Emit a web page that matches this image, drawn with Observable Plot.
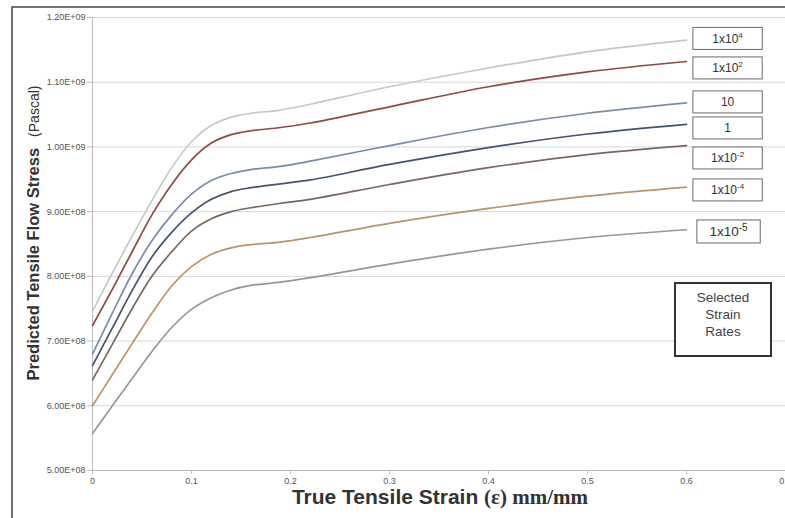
<!DOCTYPE html>
<html><head><meta charset="utf-8">
<script src="https://cdn.jsdelivr.net/npm/d3@7"></script>
<script src="https://cdn.jsdelivr.net/npm/@observablehq/plot@0.6"></script>
<style>
html,body{margin:0;padding:0;background:#fff;overflow:hidden;width:785px;height:518px;}
#chart{position:relative;width:785px;height:518px;overflow:hidden;}
</style></head><body><div id="chart"></div>
<script>
// ---- data (true tensile strain, predicted flow stress in Pa) ----
const strain = [0, 0.02, 0.04, 0.06, 0.08, 0.10, 0.12, 0.14, 0.16, 0.19, 0.22, 0.30, 0.40, 0.50, 0.60];
const rate1e4  = [7.46e8, 8.05e8, 8.62e8, 9.17e8, 9.68e8, 10.08e8, 10.33e8, 10.46e8, 10.52e8, 10.57e8, 10.66e8, 10.93e8, 11.22e8, 11.47e8, 11.65e8];
const rate1e2  = [7.24e8, 7.80e8, 8.38e8, 8.95e8, 9.42e8, 9.80e8, 10.06e8, 10.19e8, 10.25e8, 10.30e8, 10.37e8, 10.62e8, 10.93e8, 11.16e8, 11.32e8];
const rate10   = [6.80e8, 7.43e8, 8.04e8, 8.55e8, 8.95e8, 9.27e8, 9.48e8, 9.59e8, 9.65e8, 9.70e8, 9.78e8, 10.02e8, 10.30e8, 10.52e8, 10.68e8];
const rate1    = [6.62e8, 7.20e8, 7.78e8, 8.30e8, 8.68e8, 8.98e8, 9.19e8, 9.31e8, 9.37e8, 9.43e8, 9.49e8, 9.73e8, 9.99e8, 10.20e8, 10.35e8];
const rate1em2 = [6.40e8, 6.95e8, 7.50e8, 8.00e8, 8.38e8, 8.70e8, 8.89e8, 9.00e8, 9.06e8, 9.13e8, 9.19e8, 9.42e8, 9.68e8, 9.88e8, 10.02e8];
const rate1em4 = [6.00e8, 6.48e8, 6.96e8, 7.43e8, 7.85e8, 8.15e8, 8.34e8, 8.44e8, 8.49e8, 8.53e8, 8.60e8, 8.82e8, 9.05e8, 9.24e8, 9.38e8];
const rate1em5 = [5.57e8, 6.00e8, 6.42e8, 6.84e8, 7.21e8, 7.49e8, 7.67e8, 7.79e8, 7.86e8, 7.91e8, 7.98e8, 8.19e8, 8.42e8, 8.60e8, 8.72e8];

const seriesKeys = ["1e4", "1e2", "10", "1", "1e-2", "1e-4", "1e-5"];
const seriesBase = ["1x10", "1x10", "10", "1", "1x10", "1x10", "1x10"];
const seriesSup  = ["4", "2", "", "", "-2", "-4", "-5"];
const seriesValues = [rate1e4, rate1e2, rate10, rate1, rate1em2, rate1em4, rate1em5];
const seriesColors = ["#c3cac6", "#8c4b45", "#7b8ca8", "#44546c", "#7a675c", "#b8946a", "#8d9d96"];

const yTicks = [5e8, 6e8, 7e8, 8e8, 9e8, 10e8, 11e8, 12e8];
const yTickLabels = ["5.00E+08", "6.00E+08", "7.00E+08", "8.00E+08", "9.00E+08", "1.00E+09", "1.10E+09", "1.20E+09"];
const xTicks = [0, 0.1, 0.2, 0.3, 0.4, 0.5, 0.6, 0.7];
const xTickLabels = ["0", "0.1", "0.2", "0.3", "0.4", "0.5", "0.6", "0.7"];

// ---- layout (annotation placement) ----
const labelCenterY = [1.1669e9, 1.1213e9, 1.0688e9, 1.0286e9, 0.9822e9, 0.9328e9, 0.8686e9];

const rows = [];
seriesKeys.forEach((k, i) => strain.forEach((s, j) => rows.push({rate: k, strain: s, stress: seriesValues[i][j]})));
const yMap = new Map(yTicks.map((t, i) => [t, yTickLabels[i]]));
const xMap = new Map(xTicks.map((t, i) => [t, xTickLabels[i]]));

const plot = Plot.plot({
  width: 785, height: 518,
  marginTop: 17, marginBottom: 48, marginLeft: 92, marginRight: 0,
  style: {fontFamily: "'Liberation Sans', Arial, sans-serif", fontSize: "9px", color: "#555", background: "#fff", overflow: "visible"},
  x: {domain: [0, 0.7], label: null},
  y: {domain: [5e8, 1.2e9], label: null},
  color: {domain: seriesKeys, range: seriesColors},
  marks: [
    Plot.gridY(yTicks, {stroke: "#d6d6d6", strokeOpacity: 1, strokeWidth: 1}),
    Plot.ruleX([0], {stroke: "#bdbdbd"}),
    Plot.ruleY([5e8], {stroke: "#bdbdbd"}),
    Plot.axisY(yTicks, {tickFormat: d => yMap.get(d), tickSize: 5, tickPadding: 2, stroke: "#bdbdbd", fill: "#555", label: null}),
    Plot.axisX(xTicks, {tickFormat: d => xMap.get(d), tickSize: 4, tickPadding: 3, stroke: "#bdbdbd", fill: "#555", label: null}),
    Plot.line(rows, {x: "strain", y: "stress", z: "rate", stroke: "rate", strokeWidth: 1.7, curve: "catmull-rom"})
  ]
});
document.getElementById("chart").appendChild(plot);

const xs = plot.scale("x"), ys = plot.scale("y");
const svg = d3.select(plot);

// outer frame (top and left edges visible)
svg.append("path").attr("d", "M12,518V7H790").attr("fill", "none").attr("stroke", "#444").attr("stroke-width", 1.5);

// axis titles
const yt = svg.append("text")
  .attr("transform", "translate(39,233) rotate(-90)")
  .attr("text-anchor", "middle").attr("fill", "#333")
  .style("font-family", "'Liberation Sans', Arial, sans-serif");
yt.append("tspan").attr("font-weight", "bold").attr("font-size", 16.5).text("Predicted Tensile Flow Stress");
yt.append("tspan").attr("dx", 11).attr("font-size", 14).text("(Pascal)");

const xt = svg.append("text")
  .attr("x", 440).attr("y", 504)
  .attr("text-anchor", "middle").attr("fill", "#333").attr("font-weight", "bold").attr("font-size", 21);
xt.append("tspan").style("font-family", "'Liberation Sans', Arial, sans-serif").text("True Tensile Strain ");
xt.append("tspan").style("font-family", "'Liberation Serif', 'Times New Roman', serif").text("(ε) mm/mm");

// strain-rate label boxes
const g = svg.append("g").style("font-family", "'Liberation Sans', Arial, sans-serif").attr("fill", "#333");
seriesKeys.forEach((k, i) => {
  const cy = ys.apply(labelCenterY[i]);
  const big = i === 6;
  const x1 = xs.apply(big ? 0.611 : 0.607), x2 = xs.apply(big ? 0.675 : 0.677);
  const h = big ? 23 : 22;
  g.append("rect").attr("x", x1).attr("y", cy - h / 2).attr("width", x2 - x1).attr("height", h)
    .attr("fill", "#fff").attr("stroke", "#6a6a6a").attr("stroke-width", 1);
  const t = g.append("text").attr("x", (x1 + x2) / 2).attr("y", cy + (big ? 5 : 4.5))
    .attr("text-anchor", "middle").attr("font-size", big ? 13.5 : 12);
  t.append("tspan").text(seriesBase[i]);
  if (seriesSup[i]) t.append("tspan").attr("dy", -5).attr("font-size", big ? 10 : 8).text(seriesSup[i]);
});

// "Selected Strain Rates" box
g.append("rect").attr("x", 675).attr("y", 283).attr("width", 96).attr("height", 73)
  .attr("fill", "#fff").attr("stroke", "#333").attr("stroke-width", 2);
["Selected", "Strain", "Rates"].forEach((s, i) => {
  g.append("text").attr("x", 723).attr("y", 302 + i * 17).attr("text-anchor", "middle")
    .attr("font-size", 13.5).attr("fill", "#444").text(s);
});
</script></body></html>
